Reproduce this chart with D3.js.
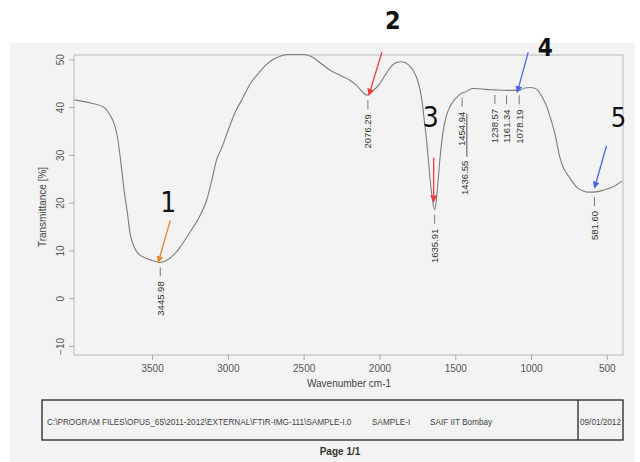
<!DOCTYPE html>
<html>
<head>
<meta charset="utf-8">
<script src="https://cdn.jsdelivr.net/npm/d3@7/dist/d3.min.js"></script>
<style>
  html, body { margin: 0; padding: 0; background: #ffffff; }
  svg { display: block; font-family: "Liberation Sans", Arial, sans-serif; }
</style>
</head>
<body>
<svg id="chart" width="640" height="462"></svg>
<script>
// FTIR spectrum: wavenumber (cm-1) and transmittance (%)
const wavenumber = [
  4010, 3900, 3820, 3780, 3750, 3730, 3710, 3700, 3680, 3665, 3645, 3620, 3590, 3545, 3500,
  3446, 3400, 3350, 3315, 3250, 3185, 3140, 3100, 3075, 3040, 3000, 2950, 2900, 2850, 2800,
  2750, 2700, 2650, 2600, 2500, 2450, 2400, 2325, 2250, 2195, 2150, 2100, 2076, 2050, 2000,
  1960, 1930, 1890, 1850, 1810, 1780, 1755, 1735, 1720, 1700, 1687, 1667, 1650, 1636, 1625,
  1615, 1600, 1582, 1560, 1536, 1510, 1490, 1455, 1437, 1385, 1360, 1300, 1239, 1161, 1078,
  1040, 1007, 980, 955, 925, 895, 870, 843, 810, 790, 764, 730, 698, 660, 632,
  592, 560, 526, 466, 400
];
const transmittance = [
  41.5, 40.8, 40.0, 38.5, 36.5, 34.0, 29.5, 26.8, 21.5, 18.4, 13.5, 10.8, 9.3, 8.4, 7.9,
  7.5, 8.0, 9.3, 10.7, 13.8, 17.2, 20.5, 25.5, 28.9, 31.5, 35.0, 39.0, 42.0, 45.0, 47.0,
  48.8, 50.0, 50.7, 51.0, 51.0, 50.6, 49.5, 47.7, 46.5, 45.6, 44.5, 42.8, 42.5, 43.2, 44.8,
  46.8, 48.2, 49.3, 49.5, 48.9, 47.8, 46.2, 44.0, 41.4, 36.0, 32.4, 25.3, 20.5, 18.5, 20.5,
  24.0, 29.5, 34.5, 38.0, 40.0, 41.3, 42.0, 43.0, 43.1, 43.9, 43.9, 43.7, 43.6, 43.5, 43.5,
  44.0, 44.1, 44.0, 43.5, 42.0, 40.0, 37.5, 34.5, 29.5, 27.5, 26.1, 24.5, 23.2, 22.5, 22.2,
  22.2, 22.3, 22.6, 23.2, 24.5
];

// picked peak positions (cm-1)
const peakLabels = [3445.98, 2076.29, 1635.91, 1454.94, 1436.55, 1238.57, 1161.34, 1078.19, 581.60];

// numbered band annotations
const bandNumbers = ["1", "2", "3", "4", "5"];
const bandPeaks = [3445.98, 2076.29, 1635.91, 1078.19, 581.60];
const bandColors = ["#e8862a", "#f23a3a", "#f23a3a", "#4f63ee", "#4f63ee"];

const xTicks = [3500, 3000, 2500, 2000, 1500, 1000, 500];
const yTicks = [-10, 0, 10, 20, 30, 40, 50];

const footerPath = "C:\\PROGRAM FILES\\OPUS_65\\2011-2012\\EXTERNAL\\FTIR-IMG-111\\SAMPLE-I.0";
const footerSample = "SAMPLE-I";
const footerLab = "SAIF IIT Bombay";
const footerDate = "09/01/2012";
const pageText = "Page 1/1";

const svg = d3.select("#chart");

// scanned page background
svg.append("rect").attr("x", 10).attr("y", 43).attr("width", 625).attr("height", 419).attr("fill", "#f3f3f3");

const x = d3.scaleLinear().domain([4015, 400]).range([74, 622]);
const y = d3.scaleLinear().domain([-11.9, 50.9]).range([355, 55]);

const spectrum = wavenumber.map((w, i) => ({ w, t: transmittance[i] }));
const tAt = d3.scaleLinear().domain(wavenumber).range(transmittance);

// plot frame
svg.append("rect")
  .attr("x", x.range()[0]).attr("y", y.range()[1])
  .attr("width", x.range()[1] - x.range()[0] + 1)
  .attr("height", y.range()[0] - y.range()[1])
  .attr("fill", "none").attr("stroke", "#b9b9b9").attr("stroke-width", 1);

// axes
const xAxis = svg.append("g").attr("transform", `translate(0,${y.range()[0]})`)
  .call(d3.axisBottom(x).tickValues(xTicks).tickFormat(d3.format("d")).tickSize(5).tickPadding(5));
xAxis.select(".domain").remove();
xAxis.selectAll("line").attr("stroke", "#aaa");
xAxis.selectAll("text").attr("fill", "#555").attr("font-size", 10)
  .attr("font-family", "'Liberation Sans', Arial, sans-serif");

const yAxis = svg.append("g").attr("transform", `translate(${x.range()[0]},0)`)
  .call(d3.axisLeft(y).tickValues(yTicks).tickFormat(d3.format("d")).tickSize(5));
yAxis.select(".domain").remove();
yAxis.selectAll("line").attr("stroke", "#aaa");
yAxis.selectAll("text")
  .attr("fill", "#555").attr("font-size", 10)
  .attr("font-family", "'Liberation Sans', Arial, sans-serif")
  .attr("x", null).attr("dy", null)
  .attr("text-anchor", "middle")
  .attr("transform", "translate(-14,0) rotate(-90)")
  .attr("dy", "0.35em");

svg.append("text")
  .attr("transform", `translate(42,207) rotate(-90)`)
  .attr("text-anchor", "middle").attr("dy", "0.35em")
  .attr("font-size", 10).attr("fill", "#444")
  .text("Transmittance [%]");

svg.append("text")
  .attr("x", 349).attr("y", 387)
  .attr("text-anchor", "middle")
  .attr("font-size", 10).attr("fill", "#444")
  .text("Wavenumber cm-1");

// spectrum line
svg.append("path")
  .datum(spectrum)
  .attr("fill", "none")
  .attr("stroke", "#7d7d7d")
  .attr("stroke-width", 1.1)
  .attr("d", d3.line().x(d => x(d.w)).y(d => y(d.t)).curve(d3.curveMonotoneX));

// peak labels: short leader below the curve, value written vertically
const peakG = svg.append("g");
let prev = null;
peakLabels.forEach(p => {
  const px = x(p);
  const cy = y(tAt(p));
  let lineTop = cy + 5, lineBot = cy + 14, textTop = cy + 19;
  if (prev && Math.abs(prev.x - px) < 8) {
    lineTop = prev.textBottom - 32;
    lineBot = prev.textBottom + 11;
    textTop = prev.textBottom + 15;
    peakG.append("line")
      .attr("x1", px + 2).attr("x2", px + 2).attr("y1", lineTop).attr("y2", lineBot)
      .attr("stroke", "#555").attr("stroke-width", 1);
  } else {
    peakG.append("line")
      .attr("x1", px).attr("x2", px).attr("y1", lineTop).attr("y2", lineBot)
      .attr("stroke", "#777").attr("stroke-width", 1);
  }
  const label = p.toFixed(2);
  peakG.append("text")
    .attr("transform", `translate(${px},${textTop}) rotate(-90)`)
    .attr("text-anchor", "end").attr("dy", "0.35em")
    .attr("font-size", 9.5).attr("fill", "#333")
    .text(label);
  prev = { x: px, textBottom: textTop + 34 };
});

// numbered arrows pointing at the bands
const arrowOffsets = [
  { tip: [-2, 0], tail: [10, -42], num: [8, -60], size: 28, weight: "normal" },
  { tip: [1, 0], tail: [14, -43], num: [25, -75], size: 25, weight: "bold" },
  { tip: [-1, -8], tail: [-1, -52], num: [-4, -93], size: 28, weight: "normal" },
  { tip: [-2, 2], tail: [9, -38], num: [26, -43], size: 24, weight: "bold" },
  { tip: [0, -4], tail: [12, -46], num: [24, -75], size: 27, weight: "normal" }
];

const defs = svg.append("defs");
bandColors.forEach((c, i) => {
  defs.append("marker")
    .attr("id", "ah" + i)
    .attr("viewBox", "0 0 10 10").attr("refX", 9).attr("refY", 5)
    .attr("markerWidth", 7).attr("markerHeight", 7)
    .attr("markerUnits", "userSpaceOnUse")
    .attr("orient", "auto")
    .append("path").attr("d", "M0,0 L10,5 L0,10 Z").attr("fill", c);
});

bandNumbers.forEach((n, i) => {
  const bx = x(bandPeaks[i]);
  const by = y(tAt(bandPeaks[i]));
  const o = arrowOffsets[i];
  svg.append("line")
    .attr("x1", bx + o.tail[0]).attr("y1", by + o.tail[1])
    .attr("x2", bx + o.tip[0]).attr("y2", by + o.tip[1])
    .attr("stroke", bandColors[i]).attr("stroke-width", 1.3)
    .attr("marker-end", `url(#ah${i})`);
  svg.append("text")
    .attr("x", bx + o.num[0]).attr("y", by + o.num[1])
    .attr("text-anchor", "middle").attr("dy", "0.36em")
    .attr("font-family", "'Liberation Sans Narrow', 'DejaVu Sans Condensed', 'Liberation Sans', sans-serif")
    .attr("font-size", o.size).attr("font-weight", o.weight)
    .attr("fill", "#111")
    .text(n);
});

// footer box
const foot = svg.append("g");
foot.append("rect").attr("x", 42).attr("y", 400).attr("width", 581).attr("height", 40)
  .attr("fill", "none").attr("stroke", "#333").attr("stroke-width", 1.4);
foot.append("line").attr("x1", 578).attr("x2", 578).attr("y1", 400).attr("y2", 440)
  .attr("stroke", "#333").attr("stroke-width", 1.4);
const footText = [
  { t: footerPath, x: 47 },
  { t: footerSample, x: 372 },
  { t: footerLab, x: 430 },
  { t: footerDate, x: 580 }
];
footText.forEach(f => {
  foot.append("text").attr("x", f.x).attr("y", 422).attr("dy", "0.35em")
    .attr("font-size", 8.2).attr("fill", "#444").text(f.t);
});
svg.append("text").attr("x", 340).attr("y", 451).attr("dy", "0.35em")
  .attr("text-anchor", "middle").attr("font-size", 10).attr("font-weight", "bold")
  .attr("fill", "#333").text(pageText);
</script>
</body>
</html>
